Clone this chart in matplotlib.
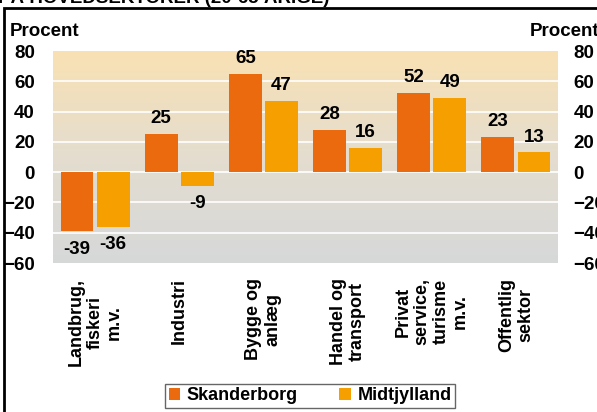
import matplotlib.pyplot as plt
import matplotlib
import numpy as np
from matplotlib.colors import LinearSegmentedColormap
from matplotlib.patches import Rectangle

categories = ["Landbrug,\nfiskeri\nm.v.", "Industri", "Bygge og\nanlæg",
              "Handel og\ntransport", "Privat\nservice,\nturisme\nm.v.", "Offentlig\nsektor"]
skanderborg = [-39, 25, 65, 28, 52, 23]
midtjylland = [-36, -9, 47, 16, 49, 13]
yticks = [80, 60, 40, 20, 0, -20, -40, -60]

matplotlib.rcParams.update({'font.family': 'Liberation Sans', 'font.weight': 'bold'})

fig = plt.figure(figsize=(5.97, 4.12), dpi=100)
ax = fig.add_axes([53 / 597, 1 - 263 / 412, 505 / 597, 212 / 412])

x = np.arange(len(categories))
ax.set_xlim(-0.5, len(categories) - 0.5)
ax.set_ylim(-60, 80)

# gradient background
cmap = LinearSegmentedColormap.from_list('bg', ['#d6d8d9', '#e4ddcf', '#f9e1b3'])
grad = np.linspace(0, 1, 256).reshape(-1, 1)
ax.imshow(grad, cmap=cmap, aspect='auto', origin='lower',
          extent=(-0.5, len(categories) - 0.5, -60, 80), zorder=0)

for y in yticks[1:-1]:
    ax.axhline(y, color='white', linewidth=1.2, zorder=1)

w = 0.39
b1 = ax.bar(x - 0.215, skanderborg, width=w, color='#ec6a0e', label='Skanderborg', zorder=2)
b2 = ax.bar(x + 0.215, midtjylland, width=w, color='#f5a000', label='Midtjylland', zorder=2)

for bars in (b1, b2):
    for rect in bars:
        v = rect.get_height()
        ax.annotate(f"{v:d}", (rect.get_x() + rect.get_width() / 2, v),
                    xytext=(0, 5 if v >= 0 else -7), textcoords='offset points',
                    ha='center', va='bottom' if v >= 0 else 'top',
                    fontsize=13.5, fontweight='bold')

for s in ax.spines.values():
    s.set_visible(False)
ax.set_xticks(x)
ax.set_xticklabels(categories, rotation=90, va='top', ha='center', multialignment='center',
                   fontsize=13, fontweight='bold', linespacing=1.15)
ax.tick_params(axis='x', length=0, pad=11)
ax.set_yticks(yticks)
ax.tick_params(axis='y', length=0, labelsize=13.5, pad=13)

ax2 = ax.twinx()
ax2.set_ylim(-60, 80)
ax2.set_yticks(yticks)
ax2.tick_params(axis='y', length=0, labelsize=13.5, pad=11)
for s in ax2.spines.values():
    s.set_visible(False)

fig.text(10 / 597, 1 - 36 / 412, "Procent", fontsize=13.5, fontweight='bold', va='baseline')
fig.text(530 / 597, 1 - 36 / 412, "Procent", fontsize=13.5, fontweight='bold', va='baseline')
fig.text(-2 / 597, 1 - 3 / 412, "PÅ HOVEDSEKTORER (20-65 ÅRIGE)", fontsize=13.5,
         fontweight='bold', va='baseline')

# outer frame
fig.add_artist(Rectangle((4 / 597, -0.1), 1.0, 1 - 8 / 412 + 0.1, transform=fig.transFigure,
                         fill=False, edgecolor='black', linewidth=2))

leg = fig.legend(handles=[b1, b2], loc='center', bbox_to_anchor=(310 / 597, 1 - 396 / 412),
                 ncol=2, fontsize=13, frameon=True, fancybox=False, edgecolor='#404040',
                 handlelength=0.65, handleheight=0.65, handletextpad=0.35, columnspacing=2.3,
                 borderpad=0.2, borderaxespad=0)
leg.get_frame().set_linewidth(1)

plt.savefig("out.png", dpi=100)
plt.close()
